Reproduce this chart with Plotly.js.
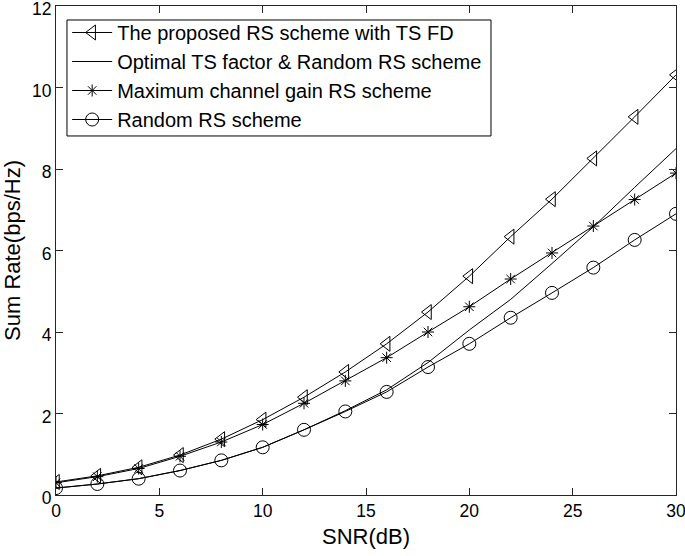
<!DOCTYPE html>
<html>
<head>
<meta charset="utf-8">
<script src="https://cdn.plot.ly/plotly-3.0.1.min.js"></script>
<style>html,body{margin:0;padding:0;background:#fff;}</style>
</head>
<body>
<div id="chart" style="width:685px;height:556px;"></div>
<script>
var snr = [0,2,4,6,8,10,12,14,16,18,20,22,24,26,28,30];
var proposedTS = [0.32,0.47,0.68,0.98,1.37,1.85,2.4,3.02,3.71,4.49,5.37,6.34,7.26,8.26,9.28,10.31];
var optimalTS = [0.17,0.27,0.40,0.60,0.85,1.17,1.60,2.07,2.58,3.25,4.05,4.80,5.68,6.58,7.55,8.50];
var maxGain = [0.30,0.45,0.65,0.95,1.30,1.73,2.25,2.80,3.37,4.00,4.62,5.30,5.94,6.60,7.25,7.90];
var randomRS = [0.17,0.27,0.40,0.60,0.85,1.17,1.60,2.05,2.53,3.14,3.71,4.35,4.96,5.58,6.26,6.90];
var names = ["The proposed RS scheme with TS FD","Optimal TS factor & Random RS scheme","Maximum channel gain RS scheme","Random RS scheme"];
var xTicks = [0,5,10,15,20,25,30];
var yTicks = [0,2,4,6,8,10,12];

var FONT = 'Liberation Sans, Arial, sans-serif';
var lineStyle = {color:'#000', width:1};
var traces = [
  {x:snr, y:proposedTS, name:names[0], mode:'lines+markers', line:lineStyle,
   marker:{symbol:'triangle-left-open', size:13, color:'#000', line:{width:1,color:'#000'}}},
  {x:snr, y:optimalTS, name:names[1], mode:'lines', line:lineStyle},
  {x:snr, y:maxGain, name:names[2], mode:'lines+markers', line:lineStyle,
   marker:{symbol:'asterisk-open', size:10, color:'#000', line:{width:1,color:'#000'}}},
  {x:snr, y:randomRS, name:names[3], mode:'lines+markers', line:lineStyle,
   marker:{symbol:'circle-open', size:13, color:'#000', line:{width:1,color:'#000'}}}
];
var axisCommon = {showgrid:false, zeroline:false, showline:true, linecolor:'#262626', linewidth:1,
  mirror:'ticks', ticks:'inside', ticklen:7, tickcolor:'#262626', ticklabeloverflow:'allow',
  tickfont:{family:FONT, size:17.5, color:'#000'}};
var layout = {
  width:685, height:556,
  margin:{l:56, r:9, t:6, b:61},
  paper_bgcolor:'#fff', plot_bgcolor:'#fff',
  showlegend:true,
  legend:{x:0.018, y:0.9857, xanchor:'left', yanchor:'top', bgcolor:'rgba(0,0,0,0)',
    borderwidth:0, itemwidth:40,
    font:{family:FONT, size:20, color:'#000'},
    tracegroupgap:0},
  shapes:[{type:'rect', xref:'paper', yref:'paper', x0:0.0177, x1:0.7016, y0:0.7342, y1:0.9714,
    line:{color:'#000', width:1}, fillcolor:'#fff', layer:'above'}],
  xaxis:Object.assign({}, axisCommon, {range:[0,30], tickvals:xTicks, ticktext:xTicks.map(String),
    title:{text:'SNR(dB)', font:{family:FONT, size:22, color:'#000'}, standoff:8}}),
  yaxis:Object.assign({}, axisCommon, {range:[0,12], tickvals:yTicks, ticktext:yTicks.map(String),
    ticklabelshift:3,
    title:{text:'Sum Rate(bps/Hz)', font:{family:FONT, size:22, color:'#000'}, standoff:6}})
};
Plotly.newPlot('chart', traces, layout, {displayModeBar:false, staticPlot:true});
</script>
</body>
</html>
